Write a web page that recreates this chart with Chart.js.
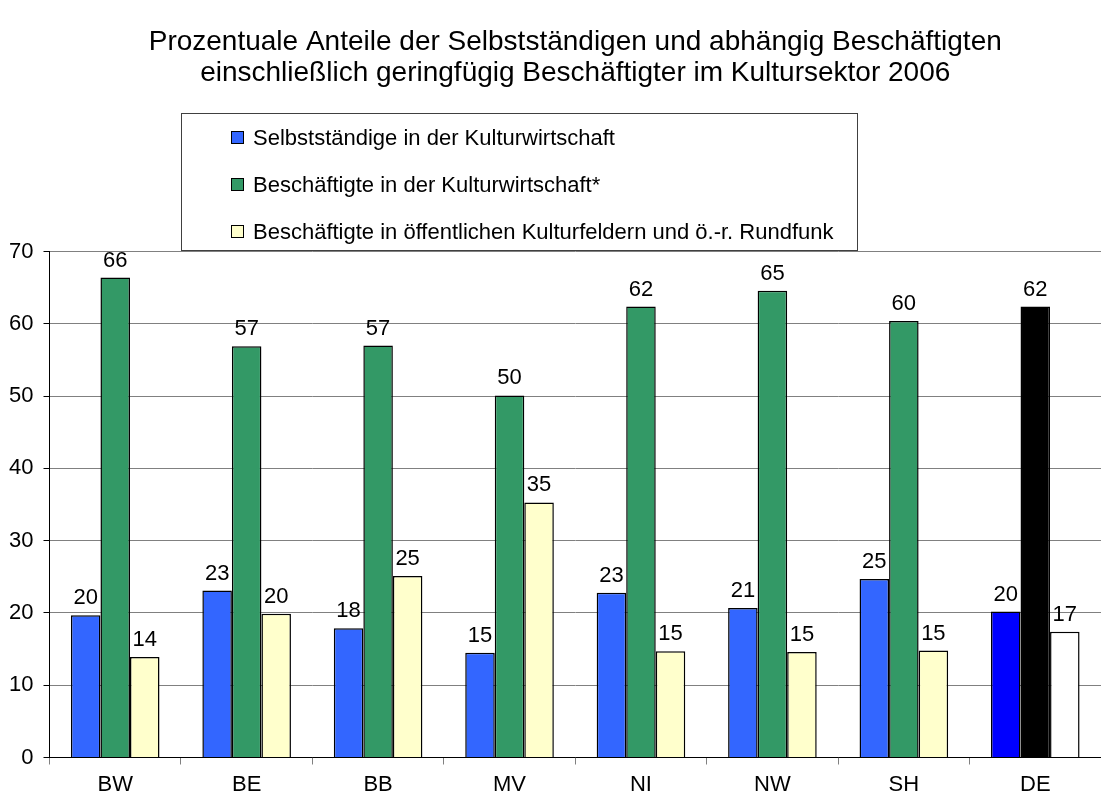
<!DOCTYPE html>
<html>
<head>
<meta charset="utf-8">
<script src="https://cdn.jsdelivr.net/npm/chart.js@4/dist/chart.umd.min.js"></script>
<style>
  html, body { margin: 0; padding: 0; background: #fff; }
  #wrap { width: 1101px; height: 798px; }
</style>
</head>
<body>
<div id="wrap"><canvas id="chart" width="1101" height="798"></canvas></div>
<script>
const regions = ['BW', 'BE', 'BB', 'MV', 'NI', 'NW', 'SH', 'DE'];
const selbststaendige = [19.7, 23.1, 17.9, 14.5, 22.8, 20.7, 24.7, 20.2];
const beschKulturwirtschaft = [66.4, 56.9, 57.0, 50.1, 62.4, 64.6, 60.4, 62.4];
const beschOeffentlich = [13.9, 19.9, 25.1, 35.3, 14.7, 14.6, 14.8, 17.4];
const seriesNames = [
    'Selbstständige in der Kulturwirtschaft',
    'Beschäftigte in der Kulturwirtschaft*',
    'Beschäftigte in öffentlichen Kulturfeldern und ö.-r. Rundfunk'
];
const titleLines = [
    'Prozentuale Anteile der Selbstständigen und abhängig Beschäftigten',
    'einschließlich geringfügig Beschäftigter im Kultursektor 2006'
];

const FONT = '"Liberation Sans", Arial, Helvetica, sans-serif';

// DE wird in eigenen Farben gezeigt
function colors(normal, de) {
    return regions.map(r => r === 'DE' ? de : normal);
}

// Werte über den Balken
const valueLabels = {
    id: 'valueLabels',
    afterDatasetsDraw(chart) {
        const ctx = chart.ctx;
        ctx.save();
        ctx.font = '22px ' + FONT;
        ctx.fillStyle = '#000';
        ctx.textAlign = 'center';
        ctx.textBaseline = 'alphabetic';
        chart.data.datasets.forEach((ds, i) => {
            chart.getDatasetMeta(i).data.forEach((bar, j) => {
                ctx.fillText(Math.round(ds.data[j]), bar.x, bar.y - 11);
            });
        });
        ctx.restore();
    }
};

// Legende als Kasten über dem Diagramm
const boxLegend = {
    id: 'boxLegend',
    afterDraw(chart) {
        const ctx = chart.ctx;
        const x0 = 181, y0 = 113, w = 676, h = 137;
        ctx.save();
        ctx.fillStyle = '#fff';
        ctx.fillRect(x0, y0, w, h);
        ctx.strokeStyle = '#404040';
        ctx.lineWidth = 1;
        ctx.strokeRect(x0 + 0.5, y0 + 0.5, w, h);
        ctx.font = '22px ' + FONT;
        ctx.textBaseline = 'middle';
        ctx.textAlign = 'left';
        chart.data.datasets.forEach((ds, i) => {
            const cy = 138 + i * 47;
            ctx.fillStyle = ds.backgroundColor[0];
            ctx.fillRect(231.5, cy - 6.5, 12, 12);
            ctx.strokeStyle = '#000';
            ctx.strokeRect(231.5, cy - 6.5, 12, 12);
            ctx.fillStyle = '#000';
            ctx.fillText(ds.label, 253, cy + 1);
        });
        ctx.restore();
    }
};

new Chart(document.getElementById('chart').getContext('2d'), {
    type: 'bar',
    data: {
        labels: regions,
        datasets: [
            { label: seriesNames[0], data: selbststaendige, backgroundColor: colors('#3366FF', '#0000FF') },
            { label: seriesNames[1], data: beschKulturwirtschaft, backgroundColor: colors('#339966', '#000000') },
            { label: seriesNames[2], data: beschOeffentlich, backgroundColor: colors('#FFFFCC', '#FFFFFF') }
        ]
    },
    options: {
        responsive: false,
        animation: false,
        datasets: {
            bar: {
                borderColor: '#000',
                borderWidth: 1.5,
                categoryPercentage: 0.674,
                barPercentage: 1.0
            }
        },
        layout: { padding: { left: 9, right: 0, top: 0, bottom: 0 } },
        scales: {
            x: {
                afterFit(scale) { scale.height = 40.5; },
                grid: { drawOnChartArea: false, drawTicks: true, tickLength: 7, tickColor: '#808080', offset: true },
                border: { color: '#000', width: 1 },
                ticks: { color: '#000', padding: 9, font: { family: FONT, size: 22, lineHeight: 1.0 } }
            },
            y: {
                min: 0,
                max: 70,
                afterFit(scale) { scale.width = 40.5; },
                ticks: { stepSize: 10, color: '#000', padding: 10, font: { family: FONT, size: 22 } },
                grid: { color: '#808080', tickColor: '#000', tickLength: 6 },
                border: { color: '#000', width: 1 }
            }
        },
        plugins: {
            legend: { display: false },
            tooltip: { enabled: false },
            title: {
                display: true,
                fullSize: false,
                text: titleLines,
                color: '#000',
                font: { family: FONT, size: 28, weight: 'normal', lineHeight: 1.1 },
                padding: { top: 27, bottom: 163 }
            }
        }
    },
    plugins: [valueLabels, boxLegend]
});
</script>
</body>
</html>
